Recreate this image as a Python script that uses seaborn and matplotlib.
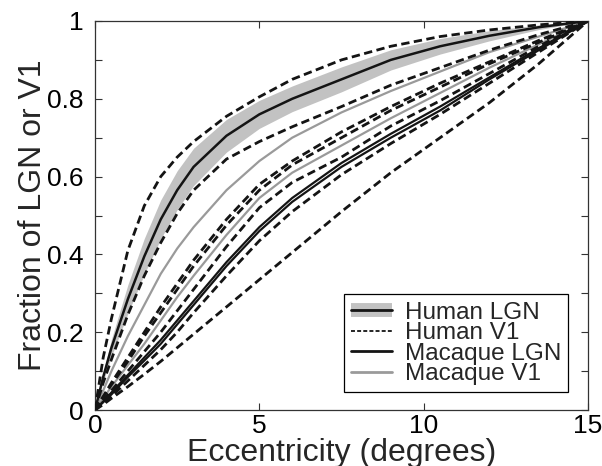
import matplotlib
matplotlib.use("Agg")
import matplotlib.pyplot as plt
import seaborn as sns
import numpy as np
from matplotlib.lines import Line2D
from matplotlib.legend_handler import HandlerTuple

sns.set_theme(style="white")
plt.rcParams['font.family'] = ['Liberation Sans', 'DejaVu Sans']

# Eccentricity sample points (degrees)
ecc = [0, 0.25, 0.5, 1, 1.5, 2, 2.5, 3, 4, 5, 6, 7.5, 9, 10.5, 12, 13.5, 15]

# Human LGN (mean and band half-width)
human_lgn = [0, 0.085, 0.16, 0.285, 0.395, 0.49, 0.565, 0.625, 0.705, 0.76, 0.80, 0.85, 0.90, 0.935, 0.962, 0.984, 1]
human_lgn_err = [0, 0.012, 0.022, 0.037, 0.046, 0.05, 0.05, 0.048, 0.042, 0.036, 0.033, 0.032, 0.026, 0.02, 0.013, 0.006, 0]

# Human V1 (individual subjects, dashed)
human_v1 = [
    [0, 0.135, 0.235, 0.41, 0.525, 0.60, 0.65, 0.69, 0.755, 0.805, 0.85, 0.90, 0.935, 0.96, 0.977, 0.99, 1],
    [0, 0.07, 0.13, 0.245, 0.345, 0.43, 0.505, 0.565, 0.645, 0.69, 0.728, 0.78, 0.835, 0.88, 0.925, 0.965, 1],
    [0, 0.035, 0.07, 0.135, 0.20, 0.265, 0.325, 0.385, 0.49, 0.58, 0.64, 0.715, 0.78, 0.84, 0.895, 0.95, 1],
    [0, 0.033, 0.065, 0.125, 0.19, 0.25, 0.31, 0.37, 0.475, 0.565, 0.63, 0.70, 0.77, 0.83, 0.89, 0.945, 1],
    [0, 0.025, 0.05, 0.10, 0.15, 0.20, 0.255, 0.31, 0.42, 0.52, 0.585, 0.65, 0.73, 0.795, 0.865, 0.935, 1],
    [0, 0.018, 0.035, 0.075, 0.115, 0.155, 0.20, 0.25, 0.345, 0.435, 0.51, 0.605, 0.685, 0.76, 0.84, 0.92, 1],
    [0, 0.014, 0.03, 0.06, 0.092, 0.125, 0.16, 0.195, 0.265, 0.335, 0.405, 0.51, 0.61, 0.70, 0.79, 0.89, 1],
]

# Macaque LGN (black solid)
macaque_lgn = [
    [0, 0.022, 0.045, 0.09, 0.135, 0.18, 0.23, 0.28, 0.38, 0.47, 0.545, 0.635, 0.71, 0.78, 0.855, 0.93, 1],
    [0, 0.02, 0.04, 0.085, 0.127, 0.17, 0.22, 0.27, 0.37, 0.46, 0.535, 0.625, 0.70, 0.77, 0.85, 0.925, 1],
]

# Macaque V1 (gray solid)
macaque_v1 = [
    [0, 0.05, 0.10, 0.19, 0.27, 0.35, 0.415, 0.47, 0.565, 0.64, 0.70, 0.765, 0.82, 0.87, 0.92, 0.96, 1],
    [0, 0.03, 0.06, 0.115, 0.17, 0.23, 0.29, 0.345, 0.45, 0.545, 0.61, 0.68, 0.75, 0.815, 0.88, 0.94, 1],
]

legend_labels = ["Human LGN", "Human V1", "Macaque LGN", "Macaque V1"]

fig = plt.figure(figsize=(6.02, 4.66), dpi=100)
ax = fig.add_axes([95/602, 56/466, 493/602, 389/466])

BLACK = "#141414"
GRAY = "#9a9a9a"
BAND = "#c2c2c2"
dash = (0, (3.0, 1.6))

lo = np.array(human_lgn) - np.array(human_lgn_err)
hi = np.array(human_lgn) + np.array(human_lgn_err)
ax.fill_between(ecc, lo, hi, color=BAND, linewidth=0, zorder=1)

for ys in macaque_v1:
    sns.lineplot(x=ecc, y=ys, ax=ax, color=GRAY, linewidth=1.6, zorder=2)
for ys in macaque_lgn:
    sns.lineplot(x=ecc, y=ys, ax=ax, color=BLACK, linewidth=1.6, zorder=3)
for ys in human_v1:
    sns.lineplot(x=ecc, y=ys, ax=ax, color=BLACK, linewidth=2.0, linestyle=dash, zorder=4)
sns.lineplot(x=ecc, y=human_lgn, ax=ax, color=BLACK, linewidth=1.8, zorder=5)

ax.set_xlim(0, 15)
ax.set_ylim(0, 1)
ax.set_xticks([0, 5, 10, 15])
ax.set_xticklabels(["0", "5", "10", "15"])
yt = [i / 10 for i in range(11)]
ax.set_yticks(yt)
ax.set_yticklabels(["0", "", "0.2", "", "0.4", "", "0.6", "", "0.8", "", "1"])
ax.tick_params(direction="in", length=5, width=0.8, colors="#333333",
               labelcolor="black", labelsize=19, top=True, right=True,
               bottom=True, left=True)
ax.tick_params(axis="y", pad=8)
ax.tick_params(axis="x", pad=3)
for s in ax.spines.values():
    s.set_color("#333333")
    s.set_linewidth(0.9)

ax.set_xlabel("Eccentricity (degrees)", fontsize=23)
ax.set_ylabel("Fraction of LGN or V1", fontsize=23)
ax.xaxis.set_label_coords(0.5, -0.072)
ax.yaxis.set_label_coords(-0.095, 0.5)

handles = [
    (Line2D([], [], color=BAND, linewidth=10, solid_capstyle="butt"),
     Line2D([], [], color=BLACK, linewidth=2)),
    Line2D([], [], color=BLACK, linewidth=1.3, linestyle=(0, (2.2, 1.2))),
    Line2D([], [], color=BLACK, linewidth=2),
    Line2D([], [], color=GRAY, linewidth=2),
]
leg = ax.legend(handles, legend_labels, handler_map={tuple: HandlerTuple(ndivide=1, pad=0)},
                loc="lower right", bbox_to_anchor=(0.96, 0.045), fontsize=17.5,
                frameon=True, fancybox=False, framealpha=1, edgecolor="black",
                handlelength=1.7, handletextpad=0.5, labelspacing=-0.06,
                borderpad=0.3, borderaxespad=0)
leg.get_frame().set_linewidth(0.9)

fig.savefig("out.png", dpi=100)
